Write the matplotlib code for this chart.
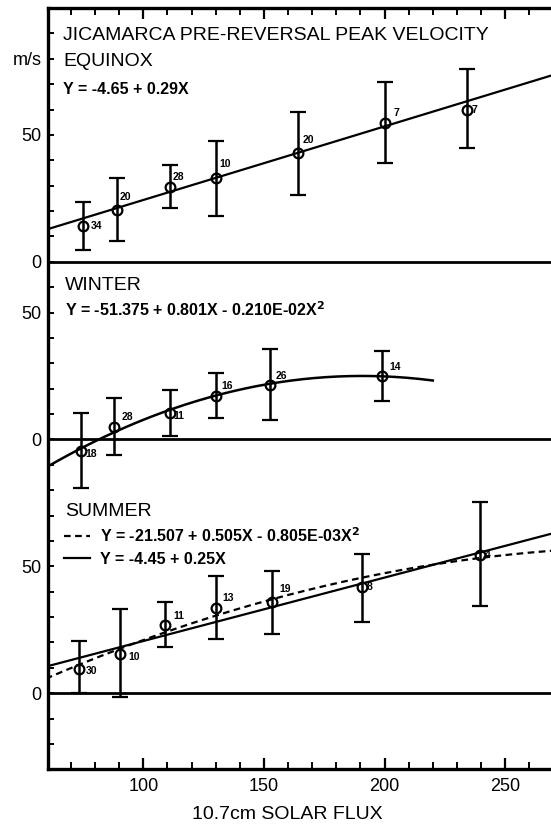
import numpy as np
import matplotlib
matplotlib.use("Agg")
import matplotlib.pyplot as plt
import matplotlib.transforms as mtransforms
from matplotlib.ticker import MultipleLocator, FixedLocator, FixedFormatter
from matplotlib.lines import Line2D

plt.rcParams['font.family'] = ['Liberation Sans', 'DejaVu Sans']

# ---------------- data ----------------
equinox_flux = [75, 89, 111, 130, 164, 200, 234]
equinox_vel = [14, 20.5, 29.5, 33, 43, 54.5, 60]
equinox_err_hi = [23.5, 33, 38, 47.5, 59, 71, 76]
equinox_err_lo = [4.5, 8, 21, 18, 26.5, 39, 45]
equinox_n = ["34", "20", "28", "10", "20", "7", "7"]
equinox_fit = [-4.65, 0.29]

winter_flux = [74, 88, 111, 130, 152.5, 199]
winter_vel = [-4.5, 5, 10.5, 17, 21.5, 25]
winter_err_hi = [10.5, 16.5, 19.5, 26, 35.5, 35]
winter_err_lo = [-19, -6, 1.5, 8.5, 7.5, 15]
winter_n = ["18", "28", "11", "16", "26", "14"]
winter_fit = [-51.375, 0.801, -0.210e-2]
winter_fit_range = [60, 220]

summer_flux = [73.5, 90.5, 109, 130, 153.5, 190.5, 239.5]
summer_vel = [9.5, 15.5, 27, 33.5, 36, 42, 54.5]
summer_err_hi = [20.5, 33, 36, 46, 48, 55, 75.5]
summer_err_lo = [0, -1.5, 18, 21.5, 23.5, 28, 34.5]
summer_n = ["30", "10", "11", "13", "19", "8", "4"]
summer_fit_quad = [-21.507, 0.505, -0.805e-3]
summer_fit_lin = [-4.45, 0.25]

x_ticks = [100, 150, 200, 250]

# ---------------- layout / style ----------------
W, H = 551, 825
XLIM = (60.6, 269)
YLIM = (-30, 270)
off_summer, off_winter, off_equinox = 0, 100, 170

eq_lab_off = [(8, 0), (3, 13), (3, 10), (4, 14), (5, 13), (9, 10), (5, 0)]
wi_lab_off = [(5, -3), (7, 10), (4, -3), (6, 10), (6, 9), (7, 9)]
su_lab_off = [(6, -2), (8, -3), (8, 9), (7, 10), (7, 13), (5, 0), (5, 0)]

fig = plt.figure(figsize=(W / 100, H / 100), dpi=100)
L, R, T, B = 48.3, 551, 8, 769.3
ax = fig.add_axes([L / W, 1 - B / H, (R - L) / W, (B - T) / H])
ax.set_xlim(*XLIM)
ax.set_ylim(*YLIM)


def px(x, y):
    return x / W, 1 - y / H


def coef_eval(c, xs):
    return np.polyval(list(c)[::-1], xs)


def panel(off, flux, vel, hi, lo, labels, lab_off):
    tr = mtransforms.Affine2D().translate(0, off) + ax.transData
    flux = np.asarray(flux, float)
    vel = np.asarray(vel, float)
    yerr = [vel - np.asarray(lo, float), np.asarray(hi, float) - vel]
    ax.errorbar(flux, vel, yerr=yerr, fmt='o', mfc='none', mec='k', ms=7,
                mew=1.6, ecolor='k', elinewidth=1.8, capsize=5.5, capthick=1.8,
                transform=tr, zorder=3)
    for f, v, t, (dx, dy) in zip(flux, vel, labels, lab_off):
        ax.annotate(t, (f, v), xycoords=tr, xytext=(dx, dy),
                    textcoords='offset pixels', fontsize=7.5, fontweight='bold',
                    ha='left', va='center')
    ax.axhline(off, color='k', lw=2.0, zorder=2)
    return tr


tr_e = panel(off_equinox, equinox_flux, equinox_vel, equinox_err_hi, equinox_err_lo,
             equinox_n, eq_lab_off)
tr_w = panel(off_winter, winter_flux, winter_vel, winter_err_hi, winter_err_lo,
             winter_n, wi_lab_off)
tr_s = panel(off_summer, summer_flux, summer_vel, summer_err_hi, summer_err_lo,
             summer_n, su_lab_off)

xs_full = np.linspace(XLIM[0] - 1, XLIM[1] + 1, 300)
ax.plot(xs_full, coef_eval(equinox_fit, xs_full), transform=tr_e, color='k', lw=1.6)
xs_w = np.linspace(winter_fit_range[0], winter_fit_range[1], 300)
ax.plot(xs_w, coef_eval(winter_fit, xs_w), transform=tr_w, color='k', lw=1.8)
ax.plot(xs_full, coef_eval(summer_fit_quad, xs_full), transform=tr_s, color='k',
        lw=1.6, dashes=(3, 2))
ax.plot(xs_full, coef_eval(summer_fit_lin, xs_full), transform=tr_s, color='k', lw=1.6)

# ---------------- ticks ----------------
ax.xaxis.set_major_locator(FixedLocator(x_ticks))
ax.xaxis.set_minor_locator(MultipleLocator(10))
ax.tick_params(axis='x', which='major', direction='in', length=8, width=1.6,
               top=True, labelsize=13, pad=6)
ax.tick_params(axis='x', which='minor', direction='in', length=5, width=1.4, top=True)

ytick_pos = [off_summer + 0, off_summer + 50, off_winter + 0, off_winter + 50,
             off_equinox + 0, off_equinox + 50, off_equinox + 80]
ytick_lab = ["0", "50", "0", "50", "0", "50", "m/s"]
ax.yaxis.set_major_locator(FixedLocator(ytick_pos))
ax.yaxis.set_major_formatter(FixedFormatter(ytick_lab))
ax.yaxis.set_minor_locator(MultipleLocator(10))
ax.tick_params(axis='y', which='both', direction='in', length=4, width=1.4,
               right=False, labelsize=13, pad=5)

for s in ['left', 'bottom', 'top']:
    ax.spines[s].set_linewidth(2.4)
ax.spines['right'].set_visible(False)

ax.set_xlabel("10.7cm SOLAR FLUX", fontsize=14)
ax.xaxis.set_label_coords((287.5 - L) / (R - L), -(806 - B) / (B - T))

# ---------------- texts ----------------
fig.text(*px(63, 35), "JICAMARCA PRE-REVERSAL PEAK VELOCITY", fontsize=14,
         ha='left', va='center')
fig.text(*px(63, 62), "EQUINOX", fontsize=14, ha='left', va='center')
fig.text(*px(63, 90), "Y = -4.65 + 0.29X", fontsize=11.5, fontweight='bold',
         ha='left', va='center')
fig.text(*px(65, 285), "WINTER", fontsize=14, ha='left', va='center')
fig.text(*px(65, 310), "Y = -51.375 + 0.801X - 0.210E-02X$^\\mathbf{2}$", fontsize=11.5,
         fontweight='bold', ha='left', va='center')
fig.text(*px(65, 511), "SUMMER", fontsize=14, ha='left', va='center')

h_dash = Line2D([], [], color='k', lw=1.6, dashes=(3, 2))
h_solid = Line2D([], [], color='k', lw=1.6)
leg = ax.legend([h_dash, h_solid],
                ["Y = -21.507 + 0.505X - 0.805E-03X$^\\mathbf{2}$", "Y = -4.45 + 0.25X"],
                loc='upper left', bbox_to_anchor=px(64, 526), bbox_transform=fig.transFigure,
                frameon=False, borderpad=0, borderaxespad=0, handlelength=1.65,
                handletextpad=0.6, labelspacing=0.45,
                prop={'size': 11.5, 'weight': 'bold'})

fig.savefig("out.png", dpi=100)
